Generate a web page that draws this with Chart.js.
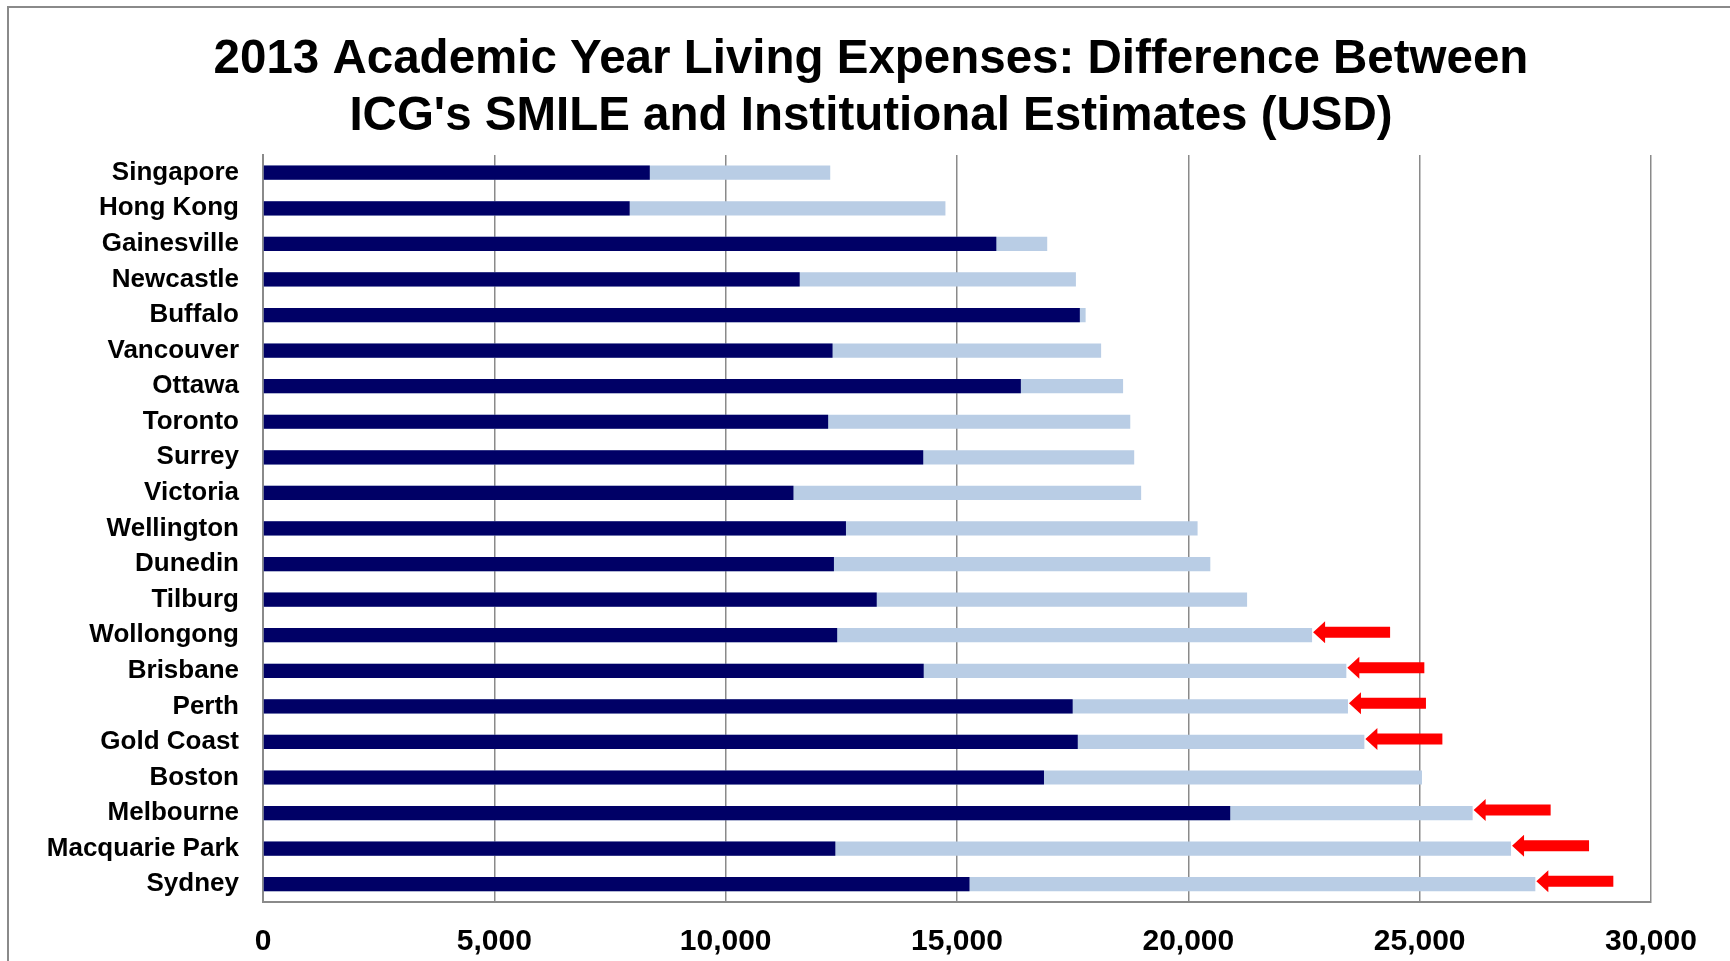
<!DOCTYPE html>
<html>
<head>
<meta charset="utf-8">
<title>2013 Academic Year Living Expenses</title>
<script src="https://cdn.jsdelivr.net/npm/chart.js@4"></script>
<style>
    body { margin: 0; background: #fff; overflow: hidden; }
    .chart-box { position: relative; width: 1730px; height: 961px; }
    .chart-box::before {
        content: '';
        position: absolute;
        left: 7px; top: 6px; right: -10px; bottom: -10px;
        border-left: 2px solid #8a8a8a;
        border-top: 2px solid #8a8a8a;
        pointer-events: none;
    }
</style>
</head>
<body>
<div class="chart-box">
    <canvas id="expensesChart"></canvas>
</div>
<script>
    // Data (USD)
    const cities = ['Singapore', 'Hong Kong', 'Gainesville', 'Newcastle', 'Buffalo', 'Vancouver', 'Ottawa',
        'Toronto', 'Surrey', 'Victoria', 'Wellington', 'Dunedin', 'Tilburg', 'Wollongong', 'Brisbane',
        'Perth', 'Gold Coast', 'Boston', 'Melbourne', 'Macquarie Park', 'Sydney'];
    const institutional = [8360, 7925, 15850, 11600, 17655, 12310, 16380, 12215, 14270, 11465, 12600,
        12340, 13265, 12410, 14280, 17500, 17610, 16880, 20905, 12370, 15270];
    const smile = [12260, 14750, 16950, 17570, 17780, 18115, 18590, 18745, 18830, 18980, 20200,
        20475, 21270, 22675, 23415, 23450, 23805, 25050, 26145, 26975, 27500];
    // cities marked with a red arrow
    const flagged = ['Wollongong', 'Brisbane', 'Perth', 'Gold Coast', 'Melbourne', 'Macquarie Park', 'Sydney'];
    const xTicks = [0, 5000, 10000, 15000, 20000, 25000, 30000];

    const gridGray = '#8a8a8a';
    const fontFamily = "'Liberation Sans', Arial, sans-serif";

    // Red left-pointing arrows at the end of flagged bars
    const arrowPlugin = {
        id: 'arrows',
        afterDatasetsDraw(chart) {
            const ctx = chart.ctx;
            const xs = chart.scales.x, ys = chart.scales.y;
            ctx.save();
            ctx.fillStyle = '#ff0000';
            cities.forEach((city, i) => {
                if (!flagged.includes(city)) return;
                const x = xs.getPixelForValue(smile[i]) + 1;
                const y = ys.getPixelForValue(i) - 3;
                ctx.beginPath();
                ctx.moveTo(x, y);
                ctx.lineTo(x + 12, y - 11);
                ctx.lineTo(x + 12, y - 5.5);
                ctx.lineTo(x + 77, y - 5.5);
                ctx.lineTo(x + 77, y + 5.5);
                ctx.lineTo(x + 12, y + 5.5);
                ctx.lineTo(x + 12, y + 11);
                ctx.closePath();
                ctx.fill();
            });
            ctx.restore();
        }
    };

    const ctx = document.getElementById('expensesChart').getContext('2d');
    const expensesChart = new Chart(ctx, {
        type: 'bar',
        data: {
            labels: cities,
            datasets: [{
                label: 'Institutional',
                data: institutional,
                backgroundColor: '#000066',
                categoryPercentage: 1,
                barPercentage: 0.4
            }, {
                label: 'SMILE',
                data: smile,
                backgroundColor: '#b9cde5',
                categoryPercentage: 1,
                barPercentage: 0.4
            }]
        },
        options: {
            indexAxis: 'y',
            responsive: true,
            maintainAspectRatio: false,
            animation: false,
            layout: {
                padding: { left: 12, right: 0, top: 0, bottom: 0 }
            },
            plugins: {
                legend: { display: false },
                tooltip: { enabled: false },
                title: {
                    display: true,
                    text: ['2013 Academic Year Living Expenses: Difference Between',
                        "ICG's SMILE and Institutional Estimates (USD)"],
                    color: '#000',
                    font: { family: fontFamily, size: 47.5, weight: 'bold', lineHeight: 1.21 },
                    padding: { top: 31, bottom: 9 }
                }
            },
            scales: {
                x: {
                    min: 0,
                    max: 30000,
                    afterBuildTicks: scale => {
                        scale.ticks = xTicks.map(v => ({ value: v }));
                    },
                    afterFit: scale => {
                        scale.paddingRight = 79;
                        scale.height = 59;
                    },
                    grid: {
                        color: gridGray,
                        lineWidth: 1.5,
                        drawTicks: false
                    },
                    border: { color: gridGray, width: 2 },
                    ticks: {
                        padding: 22,
                        color: '#000',
                        font: { family: fontFamily, size: 30, weight: 'bold' },
                        callback: value => value.toLocaleString('en-US')
                    }
                },
                y: {
                    stacked: true,
                    afterFit: scale => {
                        scale.width = 251;
                    },
                    grid: { display: false, drawTicks: false },
                    border: { color: gridGray, width: 2 },
                    ticks: {
                        padding: 24,
                        color: '#000',
                        autoSkip: false,
                        font: { family: fontFamily, size: 26, weight: 'bold' }
                    }
                }
            }
        },
        plugins: [arrowPlugin]
    });
</script>
</body>
</html>
